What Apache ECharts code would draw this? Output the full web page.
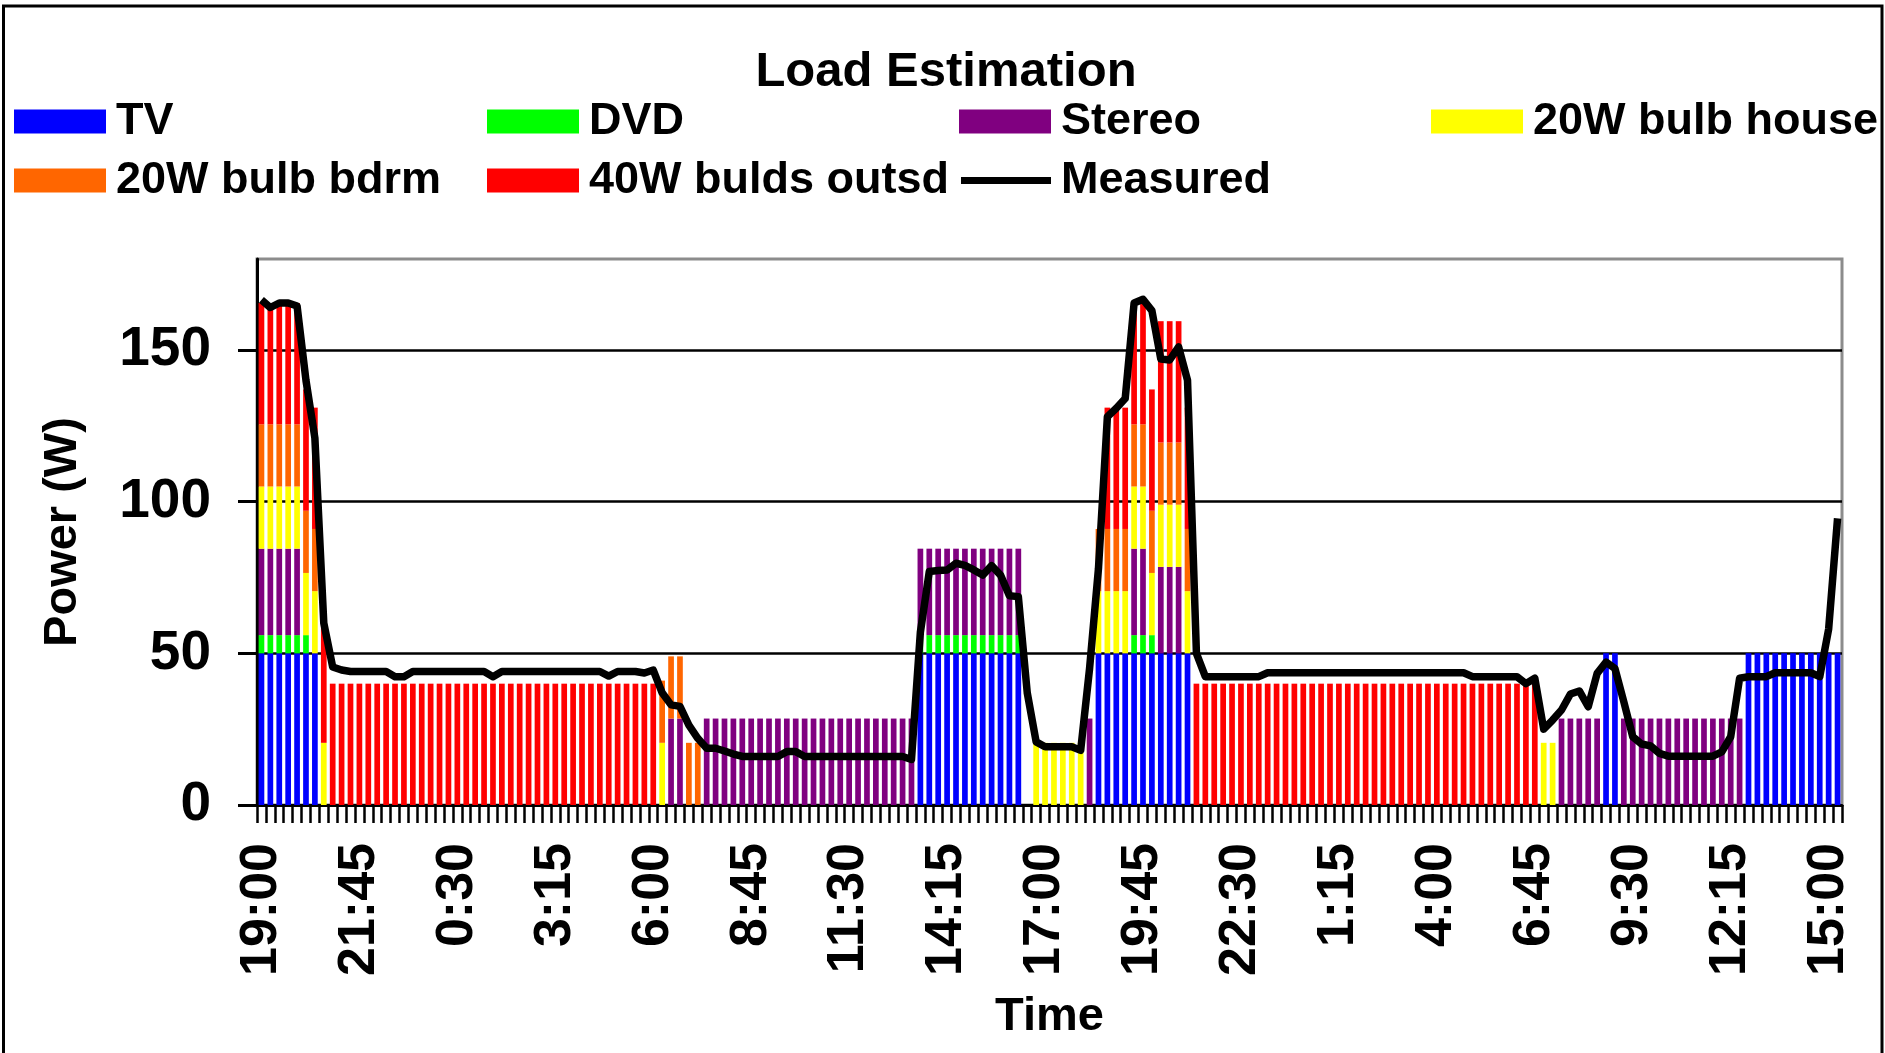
<!DOCTYPE html>
<html>
<head>
<meta charset="utf-8">
<script src="https://cdn.jsdelivr.net/npm/echarts@6/dist/echarts.min.js"></script>
<style>
html,body{margin:0;padding:0;background:#fff;}
#chart{width:1885px;height:1053px;}
</style>
</head>
<body>
<div id="chart"></div>
<script>
// ---- categories: 15-minute steps starting 19:00 ----
const categories = [];
for (let i = 0; i < 178; i++) {
  const m = (19 * 60 + 15 * i) % 1440;
  categories.push(Math.floor(m / 60) + ':' + String(m % 60).padStart(2, '0'));
}

// ---- estimated loads (W) per 15-minute slot ----
const tv = [
  50,50,50,50,50,50,50,
  0,0,0,0,0,0,0,0,0,0,0,0,0,0,0,0,0,0,0,0,0,0,0,0,0,0,0,0,0,0,0,0,0,0,0,0,0,0,0,0,0,0,0,0,0,0,0,0,0,0,0,0,0,0,0,0,0,0,0,0,0,0,0,0,0,0,0,
  50,50,50,50,50,50,50,50,50,50,50,50,
  0,0,0,0,0,0,0,0,
  50,50,50,50,50,50,50,50,50,50,50,
  0,0,0,0,0,0,0,0,0,0,0,0,0,0,0,0,0,0,0,0,0,0,0,0,0,0,0,0,0,0,0,0,0,0,0,0,0,0,0,0,0,0,0,0,0,0,
  50,50,
  0,0,0,0,0,0,0,0,0,0,0,0,0,0,
  50,50,50,50,50,50,50,50,50,50,50
];
const dvd = [
  6,6,6,6,6,6,
  0,0,0,0,0,0,0,0,0,0,0,0,0,0,0,0,0,0,0,0,0,0,0,0,0,0,0,0,0,0,0,0,0,0,0,0,0,0,0,0,0,0,0,0,0,0,0,0,0,0,0,0,0,0,0,0,0,0,0,0,0,0,0,0,0,0,0,0,
  6,6,6,6,6,6,6,6,6,6,6,6,
  0,0,0,0,0,0,0,0,0,0,0,0,
  6,6,6,
  0,0,0,0,0,0,0,0,0,0,0,0,0,0,0,0,0,0,0,0,0,0,0,0,0,0,0,0,0,0,0,0,0,0,0,0,0,0,0,0,0,0,0,0,0,0,0,0,0,0,0,0,0,0,0,0,0,0,0,0,0,0,0,0,0,0,0,0,0,0,0,0,0,0,0,0,0
];
const stereo = [
  28.5,28.5,28.5,28.5,28.5,
  0,0,0,0,0,0,0,0,0,0,0,0,0,0,0,0,0,0,0,0,0,0,0,0,0,0,0,0,0,0,0,0,0,0,0,0,0,0,0,0,0,
  28.5,28.5,
  0,0,
  28.5,28.5,28.5,28.5,28.5,28.5,28.5,28.5,28.5,28.5,28.5,28.5,28.5,28.5,28.5,28.5,28.5,28.5,28.5,28.5,28.5,28.5,28.5,28.5,
  28.5,28.5,28.5,28.5,28.5,28.5,28.5,28.5,28.5,28.5,28.5,28.5,
  0,0,0,0,0,0,0,
  28.5,
  0,0,0,0,
  28.5,28.5,
  0,
  28.5,28.5,28.5,
  0,0,0,0,0,0,0,0,0,0,0,0,0,0,0,0,0,0,0,0,0,0,0,0,0,0,0,0,0,0,0,0,0,0,0,0,0,0,0,0,0,0,
  28.5,28.5,28.5,28.5,28.5,
  0,0,
  28.5,28.5,28.5,28.5,28.5,28.5,28.5,28.5,28.5,28.5,28.5,28.5,28.5,28.5,
  0,0,0,0,0,0,0,0,0,0,0
];
const bulbHouse = [
  20.5,20.5,20.5,20.5,20.5,20.5,20.5,20.5,
  0,0,0,0,0,0,0,0,0,0,0,0,0,0,0,0,0,0,0,0,0,0,0,0,0,0,0,0,0,0,0,0,0,0,0,0,0,
  20.5,
  0,0,0,0,0,0,0,0,0,0,0,0,0,0,0,0,0,0,0,0,0,0,0,0,0,0,0,0,0,0,0,0,0,0,0,0,0,0,0,0,0,
  20.5,20.5,20.5,20.5,20.5,20.5,
  0,
  20.5,20.5,20.5,20.5,20.5,20.5,20.5,20.5,20.5,20.5,20.5,
  0,0,0,0,0,0,0,0,0,0,0,0,0,0,0,0,0,0,0,0,0,0,0,0,0,0,0,0,0,0,0,0,0,0,0,0,0,0,0,
  20.5,20.5,
  0,0,0,0,0,0,0,0,0,0,0,0,0,0,0,0,0,0,0,0,0,0,0,0,0,0,0,0,0,0,0,0
];
const bulbBdrm = [
  20.5,20.5,20.5,20.5,20.5,20.5,20.5,
  0,0,0,0,0,0,0,0,0,0,0,0,0,0,0,0,0,0,0,0,0,0,0,0,0,0,0,0,0,0,0,0,0,0,0,0,0,0,
  20.5,20.5,20.5,20.5,20.5,
  0,0,0,0,0,0,0,0,0,0,0,0,0,0,0,0,0,0,0,0,0,0,0,0,0,0,0,0,0,0,0,0,0,0,0,0,0,0,0,0,0,0,0,0,
  20.5,20.5,20.5,20.5,20.5,20.5,20.5,20.5,20.5,20.5,20.5,
  0,0,0,0,0,0,0,0,0,0,0,0,0,0,0,0,0,0,0,0,0,0,0,0,0,0,0,0,0,0,0,0,0,0,0,0,0,0,0,0,0,0,0,0,0,0,0,0,0,0,0,0,0,0,0,0,0,0,0,0,0,0,0,0,0,0,0,0,0,0,0,0,0
];
const bulbsOut = [
  40,40,40,40,40,40,40,40,40,40,40,40,40,40,40,40,40,40,40,40,40,40,40,40,40,40,40,40,40,40,40,40,40,40,40,40,40,40,40,40,40,40,40,40,40,
  0,0,0,0,0,0,0,0,0,0,0,0,0,0,0,0,0,0,0,0,0,0,0,0,0,0,0,0,0,0,0,0,0,0,0,0,0,0,0,0,0,0,0,0,0,0,0,0,0,0,
  40,40,40,40,40,40,40,40,40,40,40,40,40,40,40,40,40,40,40,40,40,40,40,40,40,40,40,40,40,40,40,40,40,40,40,40,40,40,40,40,40,40,40,40,40,40,40,40,40,
  0,0,0,0,0,0,0,0,0,0,0,0,0,0,0,0,0,0,0,0,0,0,0,0,0,0,0,0,0,0,0,0,0,0
];
const measured = [
  166.5,164,165.5,165.5,164.5,140,121,60,45.5,44.5,
  44,44,44,44,44,42.3,42.3,44,44,44,
  44,44,44,44,44,44,42.3,44,44,44,
  44,44,44,44,44,44,44,44,44,42.5,
  44,44,44,43.5,44.5,37,33,32.5,26.3,22,
  18.7,18.7,17.8,16.8,16,16,16,16,16,17.6,
  17.6,16,16,16,16,16,16,16,16,16,
  16,16,16,15,57,77,77.3,77.5,79.7,79,
  77.5,75.8,78.9,75.8,69,68.7,37,20.8,19.2,19.2,
  19.2,19.2,18,45,78,128,130.8,134,165.5,166.7,
  163,147,146.7,151,140,50,42.3,42.3,42.3,42.3,
  42.3,42.3,42.3,43.6,43.6,43.6,43.6,43.6,43.6,43.6,
  43.6,43.6,43.6,43.6,43.6,43.6,43.6,43.6,43.6,43.6,
  43.6,43.6,43.6,43.6,43.6,43.6,42.3,42.3,42.3,42.3,
  42.3,42.3,40,41.8,25,28,31.3,36.6,37.6,32.4,
  43.4,47.1,45,34,22.5,20.1,19.5,17,16.1,16.1,
  16.1,16.1,16.1,16.1,17.5,22.5,41.8,42.3,42.3,42.3,
  43.6,43.6,43.6,43.6,43.6,42.3,58,94.5
];

const seriesNames = ['TV','DVD','Stereo','20W bulb house','20W bulb bdrm','40W bulds outsd','Measured'];
const seriesColors = ['#0000FF','#00FF00','#800080','#FFFF00','#FF6600','#FF0000','#000000'];
const yTicks = { min: 0, max: 180, interval: 50 };

const FONT = '"Liberation Sans", Arial, sans-serif';
const barData = [tv, dvd, stereo, bulbHouse, bulbBdrm, bulbsOut];

const series = barData.map((d, k) => ({
  name: seriesNames[k],
  type: 'bar',
  stack: 'load',
  data: d,
  barCategoryGap: '36%',
  itemStyle: { color: seriesColors[k] },
  emphasis: { disabled: true },
  animation: false
}));
series.push({
  name: 'Measured',
  type: 'line',
  data: measured,
  symbol: 'none',
  z: 10,
  lineStyle: { color: '#000', width: 7.5, join: 'round' },
  itemStyle: { color: '#000' },
  emphasis: { disabled: true },
  animation: false
});

function legendAt(name, left, top, extra) {
  return Object.assign({
    data: [name],
    left: left,
    top: top,
    orient: 'horizontal',
    padding: 0,
    itemWidth: 92,
    itemHeight: 24,
    icon: 'rect',
    selectedMode: false,
    textStyle: { fontSize: 45, fontWeight: 'bold', color: '#000', fontFamily: FONT, padding: [0, 0, 0, 5] }
  }, extra || {});
}

const option = {
  backgroundColor: '#fff',
  animation: false,
  title: {
    text: 'Load Estimation',
    left: 946,
    top: 48,
    textAlign: 'center',
    padding: 0,
    textStyle: { fontSize: 49, fontWeight: 'bold', color: '#000', fontFamily: FONT }
  },
  legend: [
    legendAt('TV', 14, 99),
    legendAt('DVD', 487, 99),
    legendAt('Stereo', 959, 99),
    legendAt('20W bulb house', 1431, 99),
    legendAt('20W bulb bdrm', 14, 158),
    legendAt('40W bulds outsd', 487, 158),
    legendAt('Measured', 961, 158, { itemHeight: 7, itemWidth: 90, itemStyle: { color: '#000' } })
  ],
  grid: {
    left: 257, right: 43, top: 259, bottom: 248,
    show: true, borderColor: '#8c8c8c', borderWidth: 3, backgroundColor: 'transparent'
  },
  xAxis: {
    type: 'category',
    data: categories,
    name: 'Time',
    nameLocation: 'middle',
    nameGap: 189,
    nameTextStyle: { fontSize: 47, fontWeight: 'bold', color: '#000', fontFamily: FONT },
    axisLine: { show: true, lineStyle: { color: '#000', width: 3 } },
    axisTick: { show: true, interval: 0, length: 18, lineStyle: { color: '#000', width: 2.5 } },
    axisLabel: {
      interval: 10, rotate: 90, margin: 38,
      fontSize: 52, fontWeight: 'bold', color: '#000', fontFamily: FONT
    },
    splitLine: { show: false }
  },
  yAxis: {
    type: 'value',
    min: yTicks.min, max: yTicks.max, interval: yTicks.interval,
    name: 'Power (W)',
    nameLocation: 'middle',
    nameGap: 170,
    nameRotate: 90,
    nameTextStyle: { fontSize: 47, fontWeight: 'bold', color: '#000', fontFamily: FONT },
    axisLine: { show: true, lineStyle: { color: '#000', width: 3 } },
    axisTick: { show: true, inside: false, length: 19, lineStyle: { color: '#000', width: 3 } },
    axisLabel: {
      margin: 46, showMaxLabel: false,
      fontSize: 55, fontWeight: 'bold', color: '#000', fontFamily: FONT
    },
    splitLine: { show: true, showMinLine: false, showMaxLine: false, lineStyle: { color: '#000', width: 2.5 } }
  },
  graphic: [{
    type: 'rect',
    silent: true,
    z: 100,
    shape: { x: 3.5, y: 6, width: 1878.5, height: 1100 },
    style: { fill: 'none', stroke: '#000', lineWidth: 3 }
  }],
  series: series
};

const chart = echarts.init(document.getElementById('chart'), null, { renderer: 'canvas' });
chart.setOption(option);
</script>
</body>
</html>
